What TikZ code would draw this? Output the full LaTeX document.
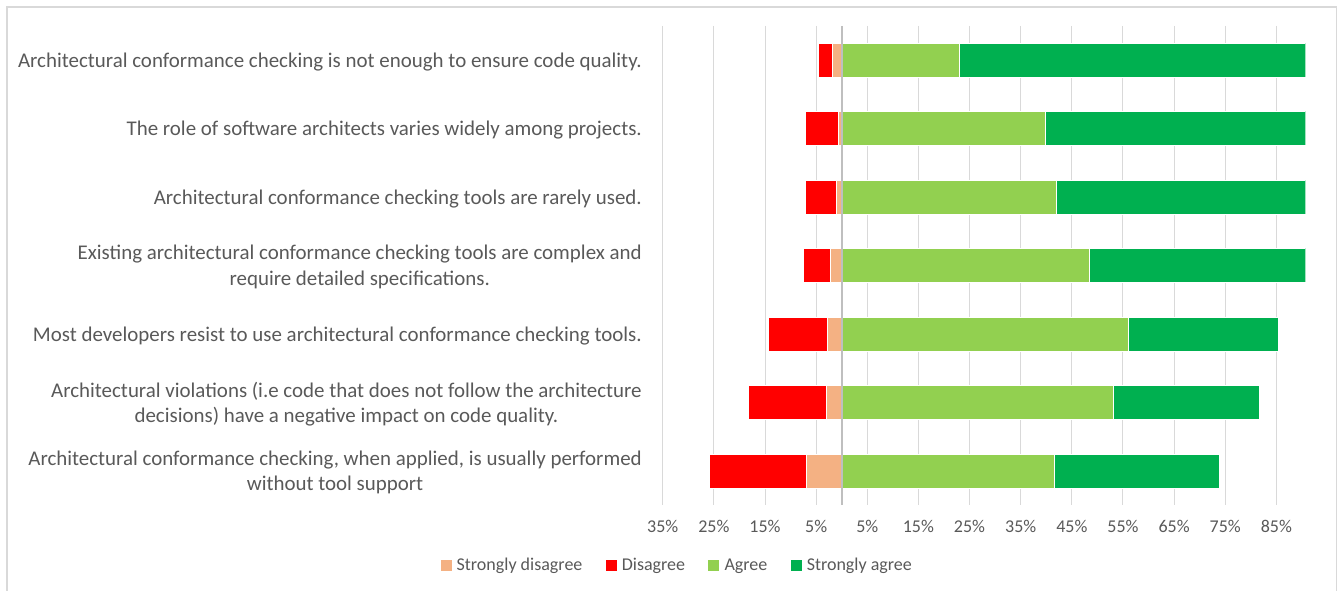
\documentclass[tikz,border=0pt]{standalone}
\usepackage{fontspec}
\setmainfont{Carlito}
\usepackage{tikz}
\usetikzlibrary{positioning}
\definecolor{sdcol}{HTML}{F4B183}
\definecolor{dcol}{HTML}{FF0000}
\definecolor{acol}{HTML}{92D050}
\definecolor{sacol}{HTML}{00B050}
\definecolor{gridcol}{HTML}{D9D9D9}
\definecolor{axiscol}{HTML}{BFBFBF}
\definecolor{txtcol}{HTML}{595959}
\tikzstyle{qtext} = [anchor=east, align=center, text=txtcol, inner sep=0pt, font=\fontsize{15.7}{19.1}\selectfont]
\tikzstyle{ticktext} = [text=txtcol, inner sep=0pt, font=\fontsize{13.5}{16}\selectfont]
\tikzstyle{legtext} = [text=txtcol, inner sep=0pt, text height=8.7pt, text depth=0pt, font=\fontsize{13.5}{16}\selectfont]
\tikzstyle{legbox} = [rectangle, minimum size=8.25pt, inner sep=0pt]
\tikzstyle{gridline} = [draw=gridcol, line width=0.75pt]
\tikzstyle{seg} = [draw=white, line width=0.5pt]
% one bar: centre y, strongly disagree, disagree, agree, strongly agree
\newcommand{\likert}[5]{%
    \path[seg, fill=sdcol] (-#2,#1-17) rectangle (0,#1+17);
    \path[seg, fill=dcol] (-#2-#3,#1-17) rectangle (-#2,#1+17);
    \path[seg, fill=acol] (0,#1-17) rectangle (#4,#1+17);
    \path[seg, fill=sacol] (#4,#1-17) rectangle (#4+#5,#1+17);
}

\begin{document}
\begin{tikzpicture}[x=0.75pt, y=-0.75pt]
    \useasboundingbox (0,0) rectangle (1338,591);
    \draw[gridcol, line width=1.1pt] (7,591) |- (1336.5,7) -- (1336.5,591);

    % statements
    \node[qtext] (notenough) at (642,62) {Architectural conformance checking is not enough to ensure code quality.};
    \node[qtext] (role) at (642,130.5) {The role of software architects varies widely among projects.};
    \node[qtext] (rarely) at (642,199) {Architectural conformance checking tools are rarely used.};
    \node[qtext] (complex) at (642,267) {Existing architectural conformance checking tools are complex and\\ require detailed specifications.};
    \node[qtext] (resist) at (642,336) {Most developers resist to use architectural conformance checking tools.};
    \node[qtext] (violations) at (642,404) {Architectural violations (i.e code that does not follow the architecture\\ decisions) have a negative impact on code quality.};
    \node[qtext] (notool) at (642,472.5) {Architectural conformance checking, when applied, is usually performed\\ without tool support};

    \begin{scope}[shift={(841.7,0)}, x=3.835pt]
        \foreach \v in {-35,-25,...,85} {
            \draw[gridline] (\v,26) -- (\v,505);
            \pgfmathtruncatemacro\av{abs(\v)}
            \node[ticktext] (tick\v) at (\v,526) {\av\%};
        }
        \begin{scope}
            \clip (-40,20) rectangle (90.7,510);
            \likert{60}{1.9}{2.7}{23.1}{72.3}
            \likert{128.5}{0.6}{6.5}{39.9}{53.0}
            \likert{197}{1.1}{6.0}{42.0}{50.9}
            \likert{265.5}{2.2}{5.3}{48.5}{44.0}
            \likert{334}{2.8}{11.5}{56.0}{29.4}
            \likert{402.5}{3.0}{15.3}{53.1}{28.5}
            \likert{471}{7.0}{18.8}{41.5}{32.4}
        \end{scope}
        \draw[axiscol, line width=1.4pt] (0,26) -- (0,505);
    \end{scope}

    % legend
    \node[legbox, fill=sdcol] (sdbox) at (446,565) {};
    \node[legtext, right=3.5pt of sdbox] (sdtext) {Strongly disagree};
    \node[legbox, fill=dcol, right=17pt of sdtext] (dbox) {};
    \node[legtext, right=3.5pt of dbox] (dtext) {Disagree};
    \node[legbox, fill=acol, right=17pt of dtext] (abox) {};
    \node[legtext, right=3.5pt of abox] (atext) {Agree};
    \node[legbox, fill=sacol, right=17pt of atext] (sabox) {};
    \node[legtext, right=3.5pt of sabox] (satext) {Strongly agree};
\end{tikzpicture}
\end{document}
